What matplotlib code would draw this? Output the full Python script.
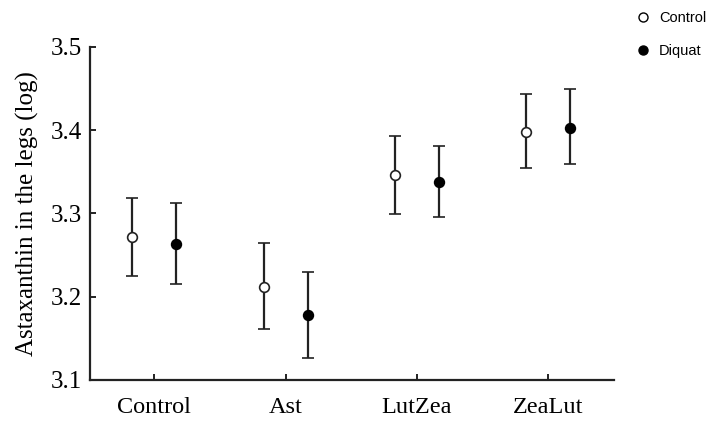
import matplotlib
matplotlib.use("Agg")
import matplotlib.pyplot as plt
import numpy as np

categories = ["Control", "Ast", "LutZea", "ZeaLut"]
control_mean = [3.272, 3.212, 3.346, 3.398]
control_low = [3.225, 3.161, 3.299, 3.354]
control_high = [3.319, 3.264, 3.393, 3.443]
diquat_mean = [3.263, 3.178, 3.338, 3.403]
diquat_low = [3.215, 3.126, 3.296, 3.359]
diquat_high = [3.312, 3.230, 3.381, 3.449]
yticks = [3.1, 3.2, 3.3, 3.4, 3.5]

fig = plt.figure(figsize=(7.1, 4.26), dpi=100)
ax = fig.add_axes([0.1268, 0.108, 0.738, 0.782])

x = np.arange(len(categories))
off = 0.168
col = "#222222"

cm = np.array(control_mean); dm = np.array(diquat_mean)
c_err = [cm - np.array(control_low), np.array(control_high) - cm]
d_err = [dm - np.array(diquat_low), np.array(diquat_high) - dm]

ax.errorbar(x - off, cm, yerr=c_err, fmt="o", mfc="white", mec=col, ecolor=col,
            ms=7, mew=1.2, elinewidth=1.6, capsize=4.5, capthick=1.6, label="Control", zorder=3)
ax.errorbar(x + off, dm, yerr=d_err, fmt="o", mfc="black", mec="black", ecolor=col,
            ms=7, mew=1.2, elinewidth=1.6, capsize=4.5, capthick=1.6, label="Diquat", zorder=3)

ax.set_xlim(-0.49, 3.5)
ax.set_ylim(3.1, 3.5)
ax.set_yticks(yticks)
ax.set_yticklabels([f"{v:.1f}" for v in yticks])
ax.set_xticks(x)
ax.set_xticklabels(categories)

for s in ["top", "right"]:
    ax.spines[s].set_visible(False)
for s in ["left", "bottom"]:
    ax.spines[s].set_linewidth(1.6)
    ax.spines[s].set_color(col)

serif = ["Liberation Serif", "DejaVu Serif"]
ax.tick_params(axis="both", direction="in", length=4, width=1.4, color=col)
ax.tick_params(axis="y", labelsize=18, pad=6)
ax.tick_params(axis="x", labelsize=17.5, pad=12)
for lab in ax.get_xticklabels() + ax.get_yticklabels():
    lab.set_family(serif)
ax.set_ylabel("Astaxanthin in the legs (log)", family=serif, fontsize=18, labelpad=8)

handles = [
    plt.Line2D([], [], marker="o", ls="none", mfc="white", mec="black", ms=6.5, mew=1.0),
    plt.Line2D([], [], marker="o", ls="none", mfc="black", mec="black", ms=6.5, mew=1.0),
]
fig.legend(handles, ["Control", "Diquat"], loc="upper left", bbox_to_anchor=(0.880, 1.0),
           frameon=False, prop={"family": ["Liberation Sans", "DejaVu Sans"], "size": 10.5},
           handlelength=1.0, handletextpad=0.6, labelspacing=1.3, borderaxespad=0.35)

fig.savefig("out.png", dpi=100)
